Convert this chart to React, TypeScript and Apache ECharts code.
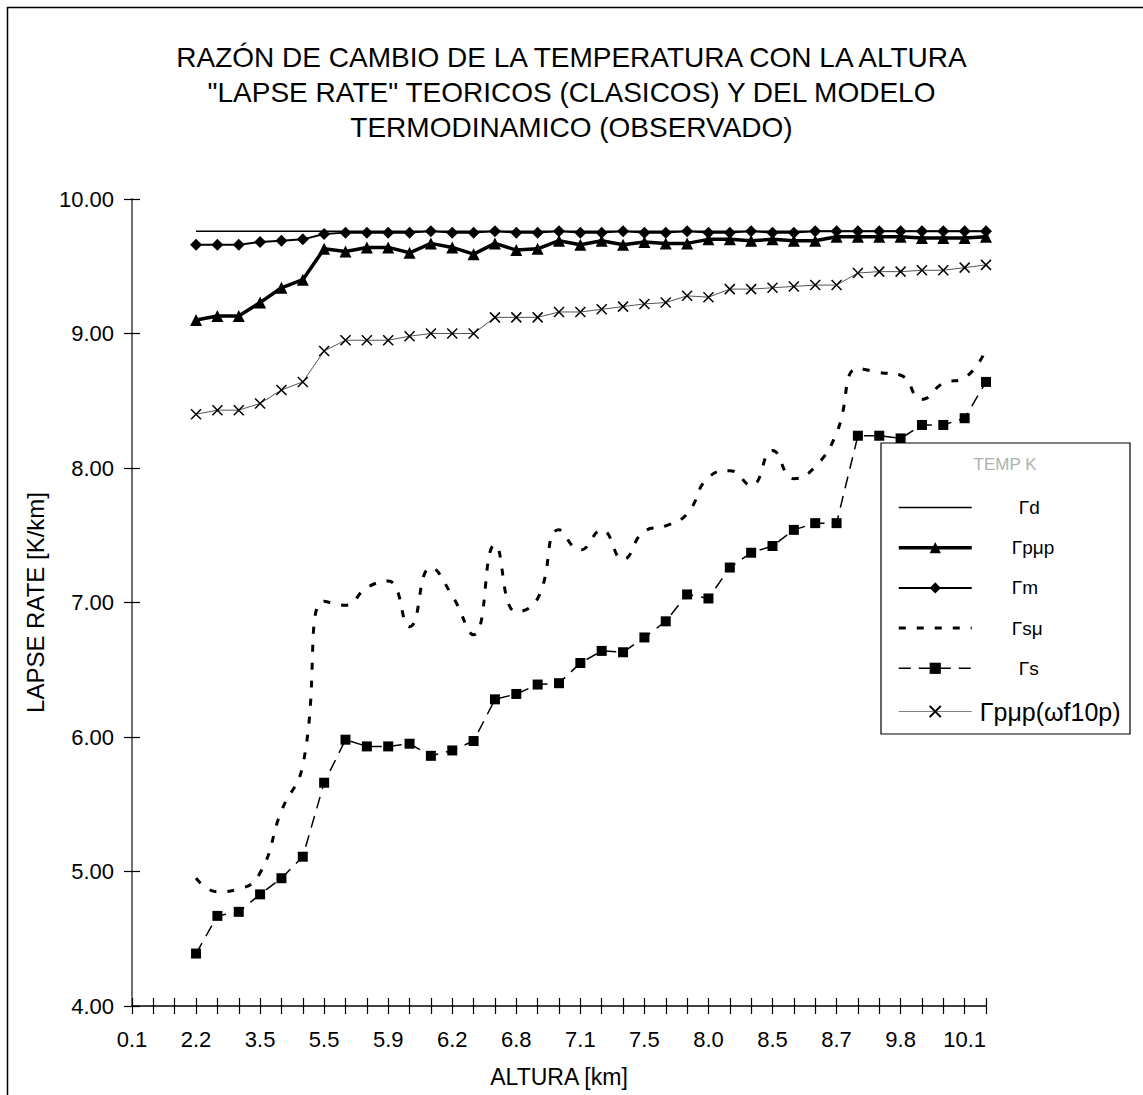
import React, { useEffect, useRef } from "react";
import * as echarts from "echarts";

const tickLabels = ["0.1", "2.2", "3.5", "5.5", "5.9", "6.2", "6.8", "7.1", "7.5", "8.0", "8.5", "8.7", "9.8", "10.1"];
const categories = Array.from({ length: 41 }, (_, i) => (i % 3 === 0 ? tickLabels[i / 3] : ""));

const gammaD = [null, null, null,
  9.76, 9.76, 9.76, 9.76, 9.76, 9.76, 9.76, 9.76, 9.76, 9.76,
  9.76, 9.76, 9.76, 9.76, 9.76, 9.76, 9.76, 9.76, 9.76, 9.76,
  9.76, 9.76, 9.76, 9.76, 9.76, 9.76, 9.76, 9.76, 9.76, 9.76,
  9.76, 9.76, 9.76, 9.76, 9.76, 9.76, 9.76, 9.76];

const gammaPup = [null, null, null,
  9.10, 9.13, 9.13, 9.23, 9.34, 9.40, 9.63, 9.61, 9.64, 9.64,
  9.60, 9.67, 9.64, 9.59, 9.67, 9.62, 9.63, 9.69, 9.66, 9.69,
  9.66, 9.68, 9.67, 9.67, 9.70, 9.70, 9.69, 9.70, 9.69, 9.69,
  9.72, 9.72, 9.72, 9.72, 9.71, 9.71, 9.71, 9.72];

const gammaM = [null, null, null,
  9.66, 9.66, 9.66, 9.68, 9.69, 9.70, 9.74, 9.75, 9.75, 9.75,
  9.75, 9.76, 9.75, 9.75, 9.76, 9.75, 9.75, 9.76, 9.75, 9.75,
  9.76, 9.75, 9.75, 9.76, 9.75, 9.75, 9.76, 9.75, 9.75, 9.76,
  9.76, 9.76, 9.76, 9.76, 9.76, 9.76, 9.76, 9.76];

const gammaSu = [null, null, null,
  4.95, 4.85, 4.87, 4.99, 5.45, 5.79, 7.01, 6.98, 7.11, 7.16,
  6.82, 7.26, 7.05, 6.76, 7.43, 6.93, 7.03, 7.54, 7.39, 7.54,
  7.32, 7.53, 7.57, 7.66, 7.93, 7.98, 7.87, 8.13, 7.92, 8.01,
  8.26, 8.74, 8.71, 8.69, 8.51, 8.63, 8.67, 8.88];

const gammaS = [null, null, null,
  4.39, 4.67, 4.70, 4.83, 4.95, 5.11, 5.66, 5.98, 5.93, 5.93,
  5.95, 5.86, 5.90, 5.97, 6.28, 6.32, 6.39, 6.40, 6.55, 6.64,
  6.63, 6.74, 6.86, 7.06, 7.03, 7.26, 7.37, 7.42, 7.54, 7.59,
  7.59, 8.24, 8.24, 8.22, 8.32, 8.32, 8.37, 8.64];

const gammaPupW = [null, null, null,
  8.40, 8.43, 8.43, 8.48, 8.58, 8.64, 8.87, 8.95, 8.95, 8.95,
  8.98, 9.00, 9.00, 9.00, 9.12, 9.12, 9.12, 9.16, 9.16, 9.18,
  9.20, 9.22, 9.23, 9.28, 9.27, 9.33, 9.33, 9.34, 9.35, 9.36,
  9.36, 9.45, 9.46, 9.46, 9.47, 9.47, 9.49, 9.51];

const names = ["Γd", "Γpμp", "Γm", "Γsμ", "Γs", "Γpμp(ωf10p)"];

const FONT = "Liberation Sans, Arial, sans-serif";

export default function App() {
  const ref = useRef<HTMLDivElement>(null);
  useEffect(() => {
    if (!ref.current) return;
    const chart = echarts.init(ref.current, null, { renderer: "svg" });
    const hiddenSym = { color: "rgba(0,0,0,0)", borderColor: "rgba(0,0,0,0)", borderWidth: 0 };
    const option: any = {
      animation: false,
      backgroundColor: "#fff",
      textStyle: { fontFamily: FONT },
      title: {
        text: 'RAZÓN DE CAMBIO DE LA TEMPERATURA CON LA ALTURA\n"LAPSE RATE" TEORICOS (CLASICOS) Y DEL MODELO\nTERMODINAMICO (OBSERVADO)',
        left: "center",
        top: 40,
        padding: 0,
        textStyle: { fontFamily: FONT, fontSize: 28, fontWeight: "normal", color: "#000", lineHeight: 35 },
      },
      grid: { left: 132, top: 199, width: 854, height: 807, containLabel: false, outerBoundsMode: "none" },
      legend: {
        orient: "vertical",
        left: 892,
        top: 493,
        itemWidth: 73,
        itemHeight: 14,
        itemGap: 21.2,
        selectedMode: false,
        z: 6,
        textStyle: { fontFamily: FONT, fontSize: 19, color: "#000", lineHeight: 14 },
        data: [
          { name: names[0], itemStyle: hiddenSym, lineStyle: { width: 1.5 }, textStyle: { padding: [0, 0, 0, 42] } },
          { name: names[1], lineStyle: { width: 3.5 }, textStyle: { padding: [0, 0, 0, 35] } },
          { name: names[2], lineStyle: { width: 2 }, textStyle: { padding: [0, 0, 0, 35] } },
          { name: names[3], itemStyle: hiddenSym, lineStyle: { width: 3 }, textStyle: { padding: [0, 0, 0, 35] } },
          { name: names[4], lineStyle: { width: 1.5 }, textStyle: { padding: [0, 0, 0, 42] } },
          { name: names[5], lineStyle: { width: 1, color: "#808080" }, textStyle: { fontSize: 25, padding: [0, 0, 0, 3] } },
        ],
      },
      xAxis: [
        {
          type: "category",
          data: categories,
          boundaryGap: false,
          name: "ALTURA [km]",
          nameLocation: "middle",
          nameGap: 59,
          nameTextStyle: { fontFamily: FONT, fontSize: 23, color: "#000" },
          axisLine: { lineStyle: { color: "#000", width: 1.5 } },
          axisTick: { show: true, interval: 0, length: 8, lineStyle: { color: "#000", width: 1.2 } },
          axisLabel: { interval: 2, fontFamily: FONT, fontSize: 22, color: "#000", margin: 22 },
          splitLine: { show: false },
        },
        {
          type: "category",
          data: categories,
          boundaryGap: false,
          position: "bottom",
          axisLine: { show: false },
          axisTick: { show: true, inside: true, interval: 0, length: 8, lineStyle: { color: "#000", width: 1.2 } },
          axisLabel: { show: false },
          splitLine: { show: false },
        },
      ],
      yAxis: [
        {
          type: "value",
          min: 4,
          max: 10,
          interval: 1,
          name: "LAPSE RATE [K/km]",
          nameLocation: "middle",
          nameGap: 85,
          nameRotate: 90,
          nameTextStyle: { fontFamily: FONT, fontSize: 24, color: "#000" },
          axisLine: { show: true, lineStyle: { color: "#707070", width: 2 } },
          axisTick: { show: true, length: 8, lineStyle: { color: "#000", width: 1.2 } },
          axisLabel: { fontFamily: FONT, fontSize: 22, color: "#000", margin: 18, formatter: (v: number) => v.toFixed(2) },
          splitLine: { show: false },
        },
        {
          type: "value",
          min: 4,
          max: 10,
          interval: 1,
          position: "left",
          axisLine: { show: false },
          axisTick: { show: true, inside: true, length: 8, lineStyle: { color: "#000", width: 1.2 } },
          axisLabel: { show: false },
          splitLine: { show: false },
        },
      ],
      graphic: [
        {
          type: "rect",
          silent: true,
          z: -10,
          shape: { x: 7.5, y: 7.5, width: 1300, height: 1300 },
          style: { fill: "none", stroke: "#000", lineWidth: 1.5 },
        },
        {
          type: "rect",
          silent: true,
          z: 5,
          shape: { x: 881, y: 443, width: 249, height: 291 },
          style: { fill: "#fff", stroke: "#000", lineWidth: 1.2 },
        },
        {
          type: "text",
          silent: true,
          z: 7,
          x: 1005,
          y: 464,
          style: { text: "TEMP K", fill: "#b0b0b0", fontSize: 17, fontFamily: FONT, align: "center", verticalAlign: "middle" },
        },
      ],
      series: [
        {
          name: names[0],
          type: "line",
          data: gammaD,
          symbol: "none",
          lineStyle: { color: "#000", width: 1.5 },
          itemStyle: { color: "#000" },
          z: 2,
        },
        {
          name: names[1],
          type: "line",
          data: gammaPup,
          symbol: "triangle",
          symbolSize: 12,
          lineStyle: { color: "#000", width: 3.5 },
          itemStyle: { color: "#000" },
          z: 2,
        },
        {
          name: names[2],
          type: "line",
          data: gammaM,
          symbol: "diamond",
          symbolSize: 12,
          lineStyle: { color: "#000", width: 2 },
          itemStyle: { color: "#000" },
          z: 2,
        },
        {
          name: names[3],
          type: "line",
          data: gammaSu,
          symbol: "none",
          smooth: 0.5,
          lineStyle: { color: "#000", width: 3, type: [7, 11] },
          itemStyle: { color: "#000" },
          z: 2,
        },
        {
          name: names[4],
          type: "line",
          data: gammaS,
          symbol: "rect",
          symbolSize: 10,
          lineStyle: { color: "#000", width: 1.5, type: [12, 8] },
          itemStyle: { color: "#000" },
          z: 2,
        },
        {
          name: names[5],
          type: "line",
          data: gammaPupW,
          symbol: "path://M0,0L10,10M10,0L0,10",
          symbolSize: 10,
          lineStyle: { color: "#555", width: 1 },
          itemStyle: { color: "rgba(0,0,0,0)", borderColor: "#000", borderWidth: 1.5 },
          z: 2,
        },
      ],
    };
    chart.setOption(option);
    return () => chart.dispose();
  }, []);
  return <div ref={ref} style={{ position: "absolute", left: 0, top: 0, width: 1143, height: 1095 }} />;
}
